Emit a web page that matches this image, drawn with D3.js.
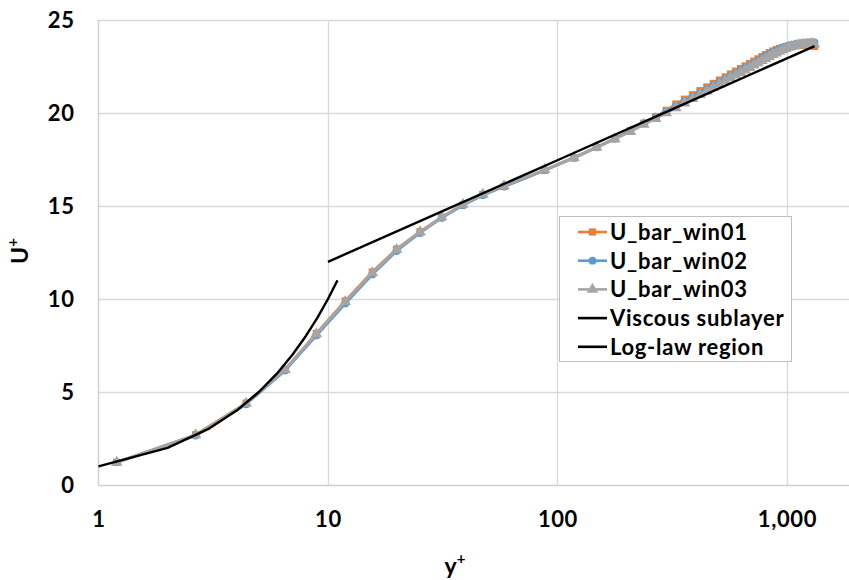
<!DOCTYPE html>
<html><head><meta charset="utf-8">
<script src="https://cdn.jsdelivr.net/npm/d3@7"></script>
<style>
html,body{margin:0;padding:0;background:#fff;}
svg{display:block;font-family:Lato,"Open Sans",sans-serif;}
</style></head>
<body><svg id="chart" width="849" height="580"></svg>
<script>
const yPlus = [1.2, 2.65, 4.4, 6.5, 8.9, 11.9, 15.6, 19.9, 25.2, 31.3, 38.7, 47.3, 58.5,
  88, 118, 148, 178, 208, 238, 268, 298, 328, 358, 388, 418, 448, 478, 508, 538, 568,
  598, 628, 658, 688, 718, 748, 778, 808, 838, 868, 898, 928, 958, 988, 1018, 1048,
  1078, 1108, 1138, 1168, 1198, 1228, 1258, 1288, 1318];
const uWin01 = [1.22, 2.70, 4.40, 6.22, 8.15, 9.90, 11.45, 12.68, 13.62, 14.40, 15.05, 15.62, 16.05,
  16.92, 17.58, 18.15, 18.62, 19.05, 19.45, 19.80, 20.14, 20.48, 20.74, 20.98, 21.20, 21.40, 21.59,
  21.77, 21.94, 22.10, 22.25, 22.39, 22.53, 22.66, 22.79, 22.91, 23.03, 23.14, 23.24, 23.33, 23.41,
  23.47, 23.52, 23.56, 23.58, 23.60, 23.62, 23.63, 23.64, 23.65, 23.65, 23.65, 23.64, 23.62, 23.58];
const uWin02 = [1.22, 2.66, 4.34, 6.15, 8.04, 9.76, 11.32, 12.58, 13.55, 14.36, 15.04, 15.58, 16.05,
  16.93, 17.60, 18.16, 18.63, 19.05, 19.44, 19.77, 20.08, 20.37, 20.63, 20.87, 21.09, 21.29, 21.48,
  21.66, 21.83, 21.99, 22.14, 22.29, 22.43, 22.56, 22.69, 22.82, 22.94, 23.06, 23.17, 23.27, 23.36,
  23.44, 23.51, 23.57, 23.62, 23.66, 23.69, 23.72, 23.74, 23.76, 23.77, 23.78, 23.79, 23.80, 23.80];
const uWin03 = [1.22, 2.69, 4.38, 6.20, 8.12, 9.86, 11.40, 12.65, 13.60, 14.40, 15.08, 15.62, 16.08,
  16.95, 17.60, 18.15, 18.60, 19.00, 19.38, 19.70, 20.00, 20.28, 20.53, 20.77, 20.98, 21.18, 21.37,
  21.55, 21.72, 21.88, 22.03, 22.17, 22.31, 22.44, 22.57, 22.69, 22.81, 22.92, 23.03, 23.13, 23.22,
  23.31, 23.39, 23.46, 23.52, 23.57, 23.61, 23.64, 23.66, 23.68, 23.69, 23.70, 23.71, 23.71, 23.70];
const viscousY = [1, 2, 3, 4, 5, 6, 7, 8, 9, 10, 11];
const viscousU = [1, 2, 3, 4, 5, 6, 7, 8, 9, 10, 11];
const logLawY = [10, 30, 100, 300, 1000, 1320];
const logLawU = [12.0, 14.6, 17.46, 20.07, 22.94, 23.6];
const xTicks = [1, 10, 100, 1000];
const yTicks = [0, 5, 10, 15, 20, 25];
const seriesNames = ["U_bar_win01", "U_bar_win02", "U_bar_win03", "Viscous sublayer", "Log-law region"];

const svg = d3.select("#chart");
const x = d3.scaleLog().domain([1, 2000]).range([98.5, 856]);
const y = d3.scaleLinear().domain([0, 25]).range([485, 20]);

// gridlines
svg.append("g").selectAll("line").data(yTicks.filter(d => d > 0)).join("line")
  .attr("x1", x(1)).attr("x2", 849).attr("y1", d => Math.round(y(d)) + 0.5).attr("y2", d => Math.round(y(d)) + 0.5)
  .attr("stroke", "#d9d9d9").attr("stroke-width", 1.3);
svg.append("g").selectAll("line").data(xTicks.filter(d => d > 1)).join("line")
  .attr("x1", d => Math.round(x(d)) + 0.5).attr("x2", d => Math.round(x(d)) + 0.5).attr("y1", y(25)).attr("y2", y(0))
  .attr("stroke", "#d9d9d9").attr("stroke-width", 1.3);
// axis lines
svg.append("line").attr("x1", x(1)).attr("x2", x(1)).attr("y1", y(25)).attr("y2", y(0))
  .attr("stroke", "#d0d0d0").attr("stroke-width", 1.5);
svg.append("line").attr("x1", x(1)).attr("x2", 849).attr("y1", y(0) + 0.5).attr("y2", y(0) + 0.5)
  .attr("stroke", "#d0d0d0").attr("stroke-width", 1.5);

// axes
const xAxis = svg.append("g").attr("transform", `translate(0,${y(0)})`)
  .call(d3.axisBottom(x).tickValues(xTicks).tickFormat(d3.format(",")).tickSize(0).tickPadding(26));
const yAxis = svg.append("g").attr("transform", `translate(${x(1)},0)`)
  .call(d3.axisLeft(y).tickValues(yTicks).tickSize(0).tickPadding(24));
[xAxis, yAxis].forEach(a => {
  a.select(".domain").remove();
  a.selectAll("text").attr("font-size", 22).attr("font-weight", 700).attr("fill", "#000")
    .attr("letter-spacing", 0.6)
    .attr("font-family", "Lato, 'Open Sans', sans-serif");
});

// axis titles
const xt = svg.append("text").attr("x", 455).attr("y", 574).attr("text-anchor", "middle")
  .attr("font-size", 23).attr("font-weight", 700).attr("fill", "#000");
xt.append("tspan").text("y");
xt.append("tspan").text("+").attr("font-size", 15).attr("dy", -10);
const yt = svg.append("text").attr("transform", "translate(28,251) rotate(-90)").attr("text-anchor", "middle")
  .attr("font-size", 23).attr("font-weight", 700).attr("fill", "#000");
yt.append("tspan").text("U");
yt.append("tspan").text("+").attr("font-size", 15).attr("dy", -10);

const line = d3.line().x(d => x(d[0])).y(d => y(d[1]));
const colors = ["#ED7D31", "#5B9BD5", "#A5A5A5"];
const dataSets = [uWin01, uWin02, uWin03];
const symbols = [d3.symbolSquare, d3.symbolCircle, d3.symbolTriangle];
const symSizes = [52, 48, 58];

dataSets.forEach((u, i) => {
  const pts = yPlus.map((v, k) => [v, u[k]]);
  svg.append("path").datum(pts).attr("d", line).attr("fill", "none")
    .attr("stroke", colors[i]).attr("stroke-width", 2.8).attr("stroke-linejoin", "round");
  svg.append("g").selectAll("path").data(pts).join("path")
    .attr("transform", d => `translate(${x(d[0])},${y(d[1])})`)
    .attr("d", d3.symbol().type(symbols[i]).size(symSizes[i]))
    .attr("fill", colors[i]);
});

const visc = viscousY.map((v, k) => [v, viscousU[k]]);
const logl = logLawY.map((v, k) => [v, logLawU[k]]);
[visc, logl].forEach(p => {
  svg.append("path").datum(p).attr("d", line).attr("fill", "none")
    .attr("stroke", "#000").attr("stroke-width", 2.4).attr("stroke-linejoin", "round");
});

// legend
const lg = svg.append("g");
lg.append("rect").attr("x", 559.5).attr("y", 216.5).attr("width", 232).attr("height", 145)
  .attr("fill", "#fff").attr("stroke", "#bfbfbf").attr("stroke-width", 1);
const legColors = ["#ED7D31", "#5B9BD5", "#A5A5A5", "#000", "#000"];
seriesNames.forEach((name, i) => {
  const cy = 232 + i * 28.7;
  lg.append("line").attr("x1", 578).attr("x2", 607).attr("y1", cy).attr("y2", cy)
    .attr("stroke", legColors[i]).attr("stroke-width", 2.6);
  if (i < 3) {
    lg.append("path").attr("transform", `translate(592.5,${cy})`)
      .attr("d", d3.symbol().type(symbols[i]).size(symSizes[i])).attr("fill", legColors[i]);
  }
  lg.append("text").attr("x", 610).attr("y", cy).attr("dy", "0.36em")
    .attr("font-size", 22).attr("font-weight", 700).attr("letter-spacing", 0.7)
    .attr("fill", "#000").text(name);
});
</script>
</body></html>
